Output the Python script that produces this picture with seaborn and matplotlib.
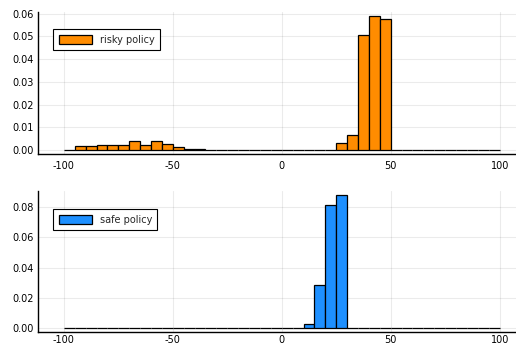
import matplotlib
matplotlib.use("Agg")
import matplotlib.pyplot as plt
import numpy as np
import seaborn as sns

# bin edges: -100 to 100, width 5
bin_edges = list(range(-100, 105, 5))

# density per bin
risky_density = [
    0.0, 0.0019, 0.0016, 0.0022, 0.0020, 0.0020, 0.0040, 0.0020, 0.0038, 0.0025,
    0.0013, 0.0006, 0.0003, 0.0001, 0.0, 0.0, 0.0, 0.0, 0.0, 0.0,
    0.0, 0.0, 0.0, 0.0, 0.0002, 0.0029, 0.0068, 0.0507, 0.0588, 0.0575,
    0.0, 0.0, 0.0, 0.0, 0.0, 0.0, 0.0, 0.0, 0.0, 0.0,
]
safe_density = [
    0.0, 0.0, 0.0, 0.0, 0.0, 0.0, 0.0, 0.0, 0.0, 0.0,
    0.0, 0.0, 0.0, 0.0, 0.0, 0.0, 0.0, 0.0, 0.0, 0.0,
    0.0, 0.0003, 0.0030, 0.0287, 0.0811, 0.0880, 0.0, 0.0, 0.0, 0.0,
    0.0, 0.0, 0.0, 0.0, 0.0, 0.0, 0.0, 0.0, 0.0, 0.0,
]

risky_yticks = [0.00, 0.01, 0.02, 0.03, 0.04, 0.05, 0.06]
safe_yticks = [0.00, 0.02, 0.04, 0.06, 0.08]
x_ticks = [-100, -50, 0, 50, 100]

sns.set_style("white")
plt.rcParams['font.family'] = ['DejaVu Sans']

fig = plt.figure(figsize=(5.16, 3.47), dpi=100)
ax1 = fig.add_axes([0.073, 0.556, 0.927, 0.409])
ax2 = fig.add_axes([0.073, 0.042, 0.927, 0.408])

centers = [e + 2.5 for e in bin_edges[:-1]]

panels = [
    (ax1, risky_density, '#FF8C00', 'risky policy', risky_yticks, (-0.0018, 0.0607), 0.878, 5),
    (ax2, safe_density, '#1E90FF', 'safe policy', safe_yticks, (-0.0026, 0.0906), 0.87, 2),
]

for ax, dens, color, label, yticks, ylim, leg_y, xpad in panels:
    sns.histplot(x=centers, weights=dens, bins=bin_edges, stat='count',
                 color=color, alpha=1.0, edgecolor='black', linewidth=0.9,
                 label=label, ax=ax)
    ax.set_xlim(-112, 107.5)
    ax.set_ylim(*ylim)
    ax.set_xticks(x_ticks)
    ax.set_xticklabels([str(t) for t in x_ticks])
    ax.set_yticks(yticks)
    ax.set_yticklabels([f'{t:.2f}' for t in yticks])
    ax.set_xlabel('')
    ax.set_ylabel('')
    ax.grid(True, color='black', alpha=0.08, linewidth=0.8)
    ax.set_axisbelow(True)
    for side in ['top', 'right']:
        ax.spines[side].set_visible(False)
    for side in ['left', 'bottom']:
        ax.spines[side].set_color('black')
        ax.spines[side].set_linewidth(1.0)
    ax.tick_params(direction='in', length=3, width=0.8, labelsize=7, colors='black', pad=3)
    ax.tick_params(axis='x', pad=xpad)
    leg = ax.legend(loc='upper left', bbox_to_anchor=(0.033, leg_y), borderaxespad=0,
                    fontsize=7, fancybox=False, framealpha=1, edgecolor='black',
                    handlelength=3.4, handleheight=1.1, borderpad=0.55)
    leg.get_frame().set_linewidth(0.8)

fig.savefig('out.png', dpi=100)
